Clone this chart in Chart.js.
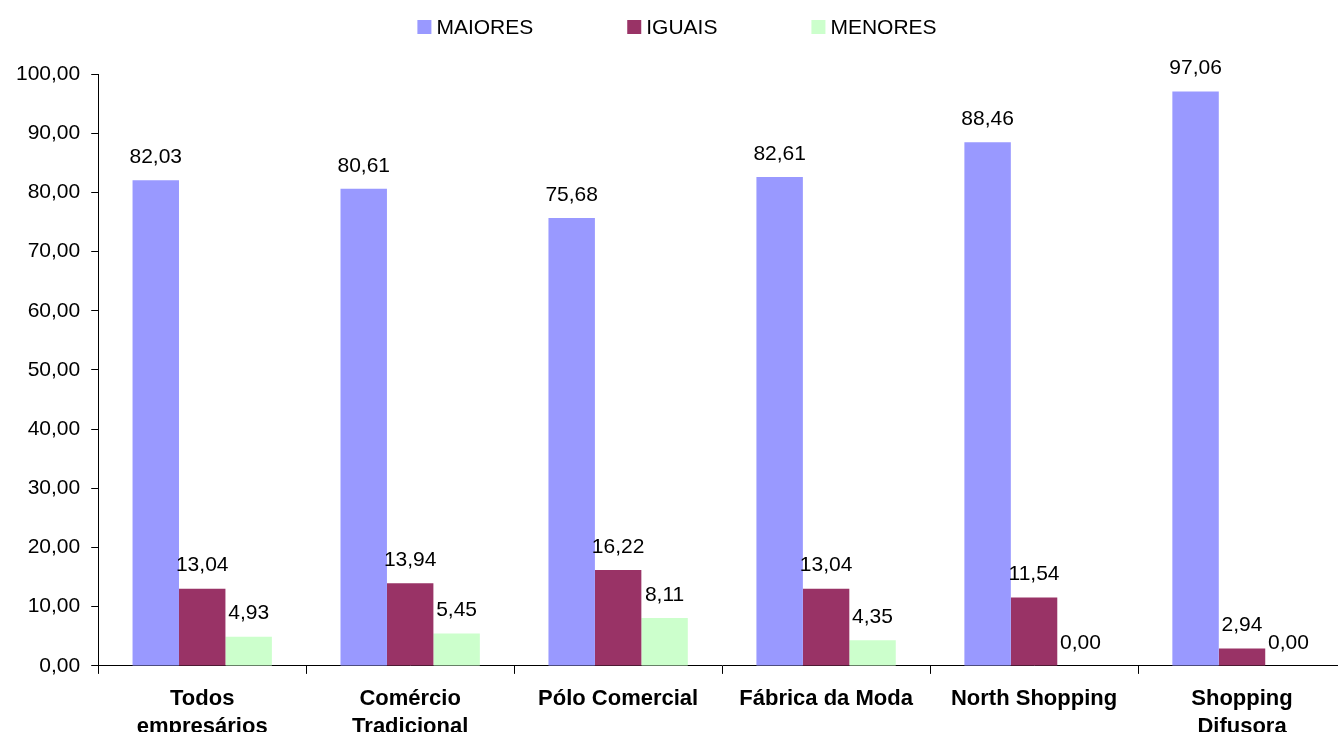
<!DOCTYPE html>
<html>
<head>
<meta charset="utf-8">
<script src="https://cdn.jsdelivr.net/npm/chart.js@4.4.1/dist/chart.umd.min.js"></script>
<style>
  html, body { margin: 0; padding: 0; background: #fff; overflow: hidden; }
  #wrap { width: 1350px; height: 760px; }
</style>
</head>
<body>
<div id="wrap"><canvas id="grafico" width="1350" height="760"></canvas></div>
<script>
// categorias e séries (percentuais)
const categorias = [
    ["Todos", "empresários"],
    ["Comércio", "Tradicional"],
    "Pólo Comercial",
    "Fábrica da Moda",
    "North Shopping",
    ["Shopping", "Difusora"]
];
const maiores = [82.03, 80.61, 75.68, 82.61, 88.46, 97.06];
const iguais = [13.04, 13.94, 16.22, 13.04, 11.54, 2.94];
const menores = [4.93, 5.45, 8.11, 4.35, 0.00, 0.00];
const nomesSeries = ["MAIORES", "IGUAIS", "MENORES"];
const coresSeries = ["#9999FF", "#993366", "#CCFFCC"];

const fonte = "'Liberation Sans', Arial, sans-serif";
const fmt = v => v.toFixed(2).replace(".", ",");

// rótulos de valor acima das barras
const rotulosValor = {
    id: "rotulosValor",
    afterDatasetsDraw(chart) {
        const ctx = chart.ctx;
        ctx.save();
        ctx.font = "21px " + fonte;
        ctx.fillStyle = "#000";
        ctx.textAlign = "center";
        ctx.textBaseline = "middle";
        chart.data.datasets.forEach((ds, i) => {
            chart.getDatasetMeta(i).data.forEach((bar, j) => {
                ctx.fillText(fmt(ds.data[j]), bar.x, bar.y - 23);
            });
        });
        ctx.restore();
    }
};

// legenda desenhada à mão (espaçamento largo como no original)
const legendaLarga = {
    id: "legendaLarga",
    afterDraw(chart) {
        const ctx = chart.ctx;
        ctx.save();
        ctx.font = "21px " + fonte;
        ctx.textBaseline = "middle";
        ctx.textAlign = "left";
        const box = 14, gapTexto = 5, gapItem = 94;
        const larguras = chart.data.datasets.map(ds => box + gapTexto + ctx.measureText(ds.label).width);
        const total = larguras.reduce((a, b) => a + b, 0) + gapItem * (larguras.length - 1);
        let x = 677 - total / 2;
        const y = 27;
        chart.data.datasets.forEach((ds, i) => {
            ctx.fillStyle = ds.backgroundColor;
            ctx.fillRect(x, y - box / 2, box, box);
            ctx.fillStyle = "#000";
            ctx.fillText(ds.label, x + box + gapTexto, y + 1);
            x += larguras[i] + gapItem;
        });
        ctx.restore();
    }
};

const ctx = document.getElementById("grafico").getContext("2d");

new Chart(ctx, {
    type: "bar",
    data: {
        labels: categorias,
        datasets: [maiores, iguais, menores].map((d, i) => ({
            label: nomesSeries[i],
            data: d,
            backgroundColor: coresSeries[i],
            borderWidth: 0,
            categoryPercentage: 0.67,
            barPercentage: 1.0
        }))
    },
    options: {
        responsive: false,
        animation: false,
        devicePixelRatio: 1,
        layout: { padding: { top: 74, left: 5, right: 4, bottom: 8 } },
        plugins: {
            legend: { display: false },
            title: { display: false },
            tooltip: { enabled: false }
        },
        scales: {
            x: {
                border: { color: "#000", width: 1 },
                grid: { display: true, drawOnChartArea: false, offset: true, color: "#000", tickLength: 8 },
                ticks: {
                    color: "#000",
                    padding: 12,
                    maxRotation: 0,
                    autoSkip: false,
                    font: { family: fonte, size: 22, weight: "bold", lineHeight: 1.23 }
                }
            },
            y: {
                min: 0,
                max: 100,
                border: { color: "#000", width: 1 },
                grid: { display: true, drawOnChartArea: false, color: "#000", tickLength: 7 },
                ticks: {
                    stepSize: 10,
                    color: "#000",
                    padding: 11,
                    font: { family: fonte, size: 21 },
                    callback: v => fmt(v)
                }
            }
        }
    },
    plugins: [rotulosValor, legendaLarga]
});
</script>
</body>
</html>
